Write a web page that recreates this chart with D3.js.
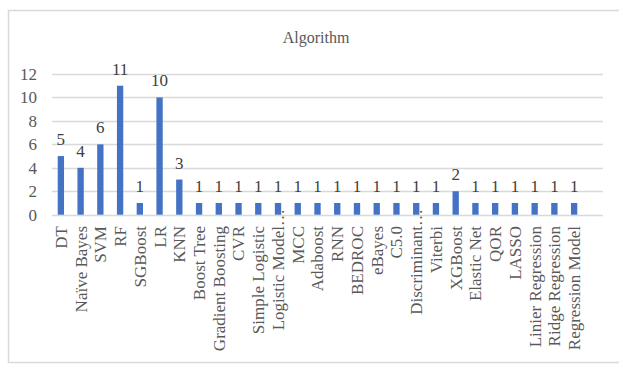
<!DOCTYPE html>
<html>
<head>
<meta charset="utf-8">
<script src="https://cdn.jsdelivr.net/npm/d3@7"></script>
<style>
  body { margin: 0; background: #fff; }
  text { font-family: "Liberation Serif", "Times New Roman", serif; }
</style>
</head>
<body>
<div id="chart"></div>
<script>
// data
var categories = ["DT", "Naïve Bayes", "SVM", "RF", "SGBoost", "LR", "KNN", "Boost Tree",
  "Gradient Boosting", "CVR", "Simple Logistic", "Logistic Model…", "MCC", "Adaboost", "RNN",
  "BEDROC", "eBayes", "C5.0", "Discriminant…", "Viterbi", "XGBoost", "Elastic Net", "QOR",
  "LASSO", "Linier Regression", "Ridge Regression", "Regression Model"];
var counts = [5, 4, 6, 11, 1, 10, 3, 1, 1, 1, 1, 1, 1, 1, 1, 1, 1, 1, 1, 1, 2, 1, 1, 1, 1, 1, 1];
var yTicks = [0, 2, 4, 6, 8, 10, 12];
var title = "Algorithm";

var W = 619, H = 366;
var svg = d3.select("#chart").append("svg").attr("width", W).attr("height", H);

// chart frame
svg.append("rect")
  .attr("x", 8.5).attr("y", 10.5).attr("width", 620).attr("height", 352)
  .attr("fill", "#fff").attr("stroke", "#d9d9d9").attr("stroke-width", 1.5);

var x = d3.scaleBand().domain(categories).range([51, 584]).paddingInner(0.68).paddingOuter(0.34);
var y = d3.scaleLinear().domain([0, 12]).range([214.7, 74]);
var gridLeft = 52, gridRight = 603;

// gridlines
svg.append("g").selectAll("line").data(yTicks).join("line")
  .attr("x1", gridLeft).attr("x2", gridRight)
  .attr("y1", d => Math.round(y(d)) + 0.5).attr("y2", d => Math.round(y(d)) + 0.5)
  .attr("stroke", "#d9d9d9").attr("stroke-width", 1.3);

// y tick labels
svg.append("g").selectAll("text").data(yTicks).join("text")
  .attr("x", 37).attr("y", d => y(d)).attr("dy", "0.35em")
  .attr("text-anchor", "end").attr("font-size", 17).attr("fill", "#595959")
  .text(d => d);

// title
svg.append("text").attr("x", 316).attr("y", 43).attr("text-anchor", "middle")
  .attr("font-size", 16).attr("fill", "#595959").text(title);

// bars
svg.append("g").selectAll("rect").data(categories).join("rect")
  .attr("x", d => x(d)).attr("width", x.bandwidth())
  .attr("y", (d, i) => y(counts[i])).attr("height", (d, i) => y(0) - y(counts[i]))
  .attr("fill", "#4472c4");

// value labels
svg.append("g").selectAll("text").data(categories).join("text")
  .attr("x", d => x(d) + x.bandwidth() / 2)
  .attr("y", (d, i) => y(counts[i]) - 11)
  .attr("text-anchor", "middle").attr("font-size", 17).attr("fill", "#404040")
  .text((d, i) => counts[i]);

// category labels, rotated
var labelTop = 226;
var lab = svg.append("g").selectAll("g").data(categories).join("g")
  .attr("transform", d => `translate(${x(d) + x.bandwidth() / 2},${labelTop}) rotate(-90)`);
lab.append("text")
  .attr("text-anchor", "end").attr("dy", "0.35em")
  .attr("font-size", 17).attr("fill", "#595959")
  .text(d => d.replace("…", ""));
// the ellipsis of truncated labels runs past the top
lab.filter(d => d.endsWith("…")).append("text")
  .attr("text-anchor", "start").attr("dy", "0.35em")
  .attr("font-size", 17).attr("fill", "#595959")
  .text("…");
</script>
</body>
</html>
